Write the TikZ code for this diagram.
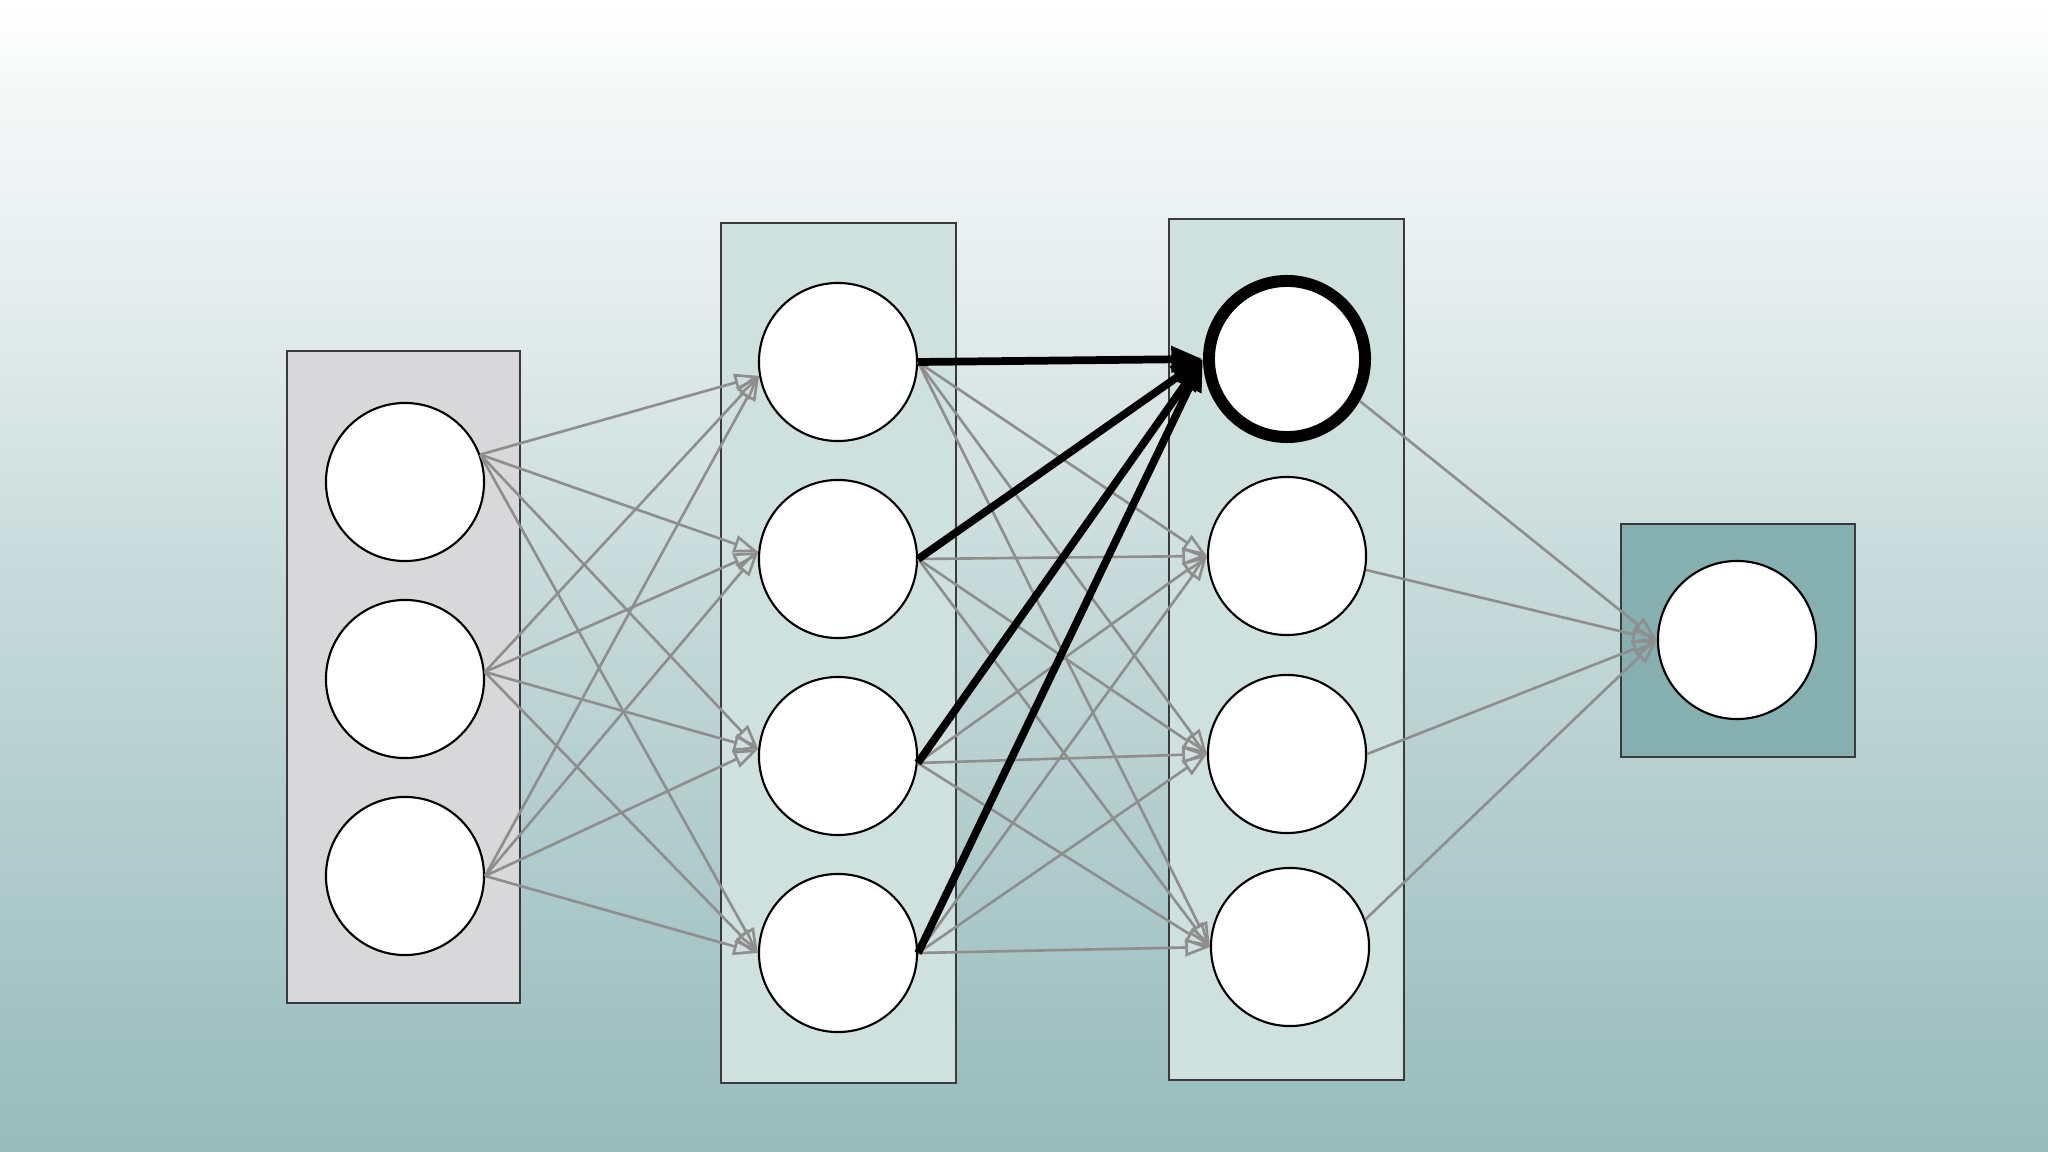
\documentclass[tikz,border=0pt]{standalone}
\usetikzlibrary{arrows.meta}
\definecolor{bgA}{HTML}{97BBBC}
\definecolor{bgB}{HTML}{C6DAD9}
\definecolor{bgC}{HTML}{E2EBEB}
\definecolor{bgD}{HTML}{F6F8F8}
\definecolor{bgE}{HTML}{FFFFFF}
\definecolor{inbox}{HTML}{D8D8DB}
\definecolor{hidbox}{HTML}{CEE1DF}
\definecolor{outbox}{HTML}{86AFAF}
\definecolor{boxline}{HTML}{3A3A3A}
\definecolor{edge}{HTML}{8E8E8E}
\pgfdeclareverticalshading{bgshade}{100bp}{color(0bp)=(bgA); color(25bp)=(bgA); color(49.5bp)=(bgB); color(61bp)=(bgC); color(71bp)=(bgD); color(75bp)=(bgE); color(100bp)=(bgE)}
\begin{document}
\begin{tikzpicture}[x=0.01cm,y=-0.01cm,
  layerbox/.style={draw=boxline,line width=0.7pt},
  neuron/.style={circle,draw=black,fill=white,line width=0.6pt,minimum size=1.58cm,inner sep=0pt},
  focus/.style={circle,draw=black,fill=white,line width=3.4pt,minimum size=1.56cm,inner sep=0pt},
  conn/.style={draw=edge,line width=0.75pt,-{Triangle[open,length=7pt,width=5pt]}},
  hot/.style={draw=black,line width=2.2pt,-{Triangle[length=9pt,width=7pt]}}]
\useasboundingbox (0,0) rectangle (2048,1152);
\shade[shading=bgshade] (0,0) rectangle (2048,1152);
% layer boxes
\draw[layerbox,fill=inbox] (287,351) rectangle (520,1003);
\draw[layerbox,fill=hidbox] (721,223) rectangle (956,1083);
\draw[layerbox,fill=hidbox] (1169,219) rectangle (1404,1080);
\draw[layerbox,fill=outbox] (1621,524) rectangle (1855,757);
% neurons
\node[neuron] (a1) at (405,482) {};
\node[neuron] (a2) at (405,679) {};
\node[neuron] (a3) at (405,876) {};
\node[neuron] (b1) at (838,362) {};
\node[neuron] (b2) at (838,559) {};
\node[neuron] (b3) at (838,756) {};
\node[neuron] (b4) at (838,953) {};
\node[focus]  (c1) at (1287,359) {};
\node[neuron] (c2) at (1287,556) {};
\node[neuron] (c3) at (1287,754) {};
\node[neuron] (c4) at (1290,947) {};
\node[neuron] (d)  at (1737,640) {};
% input -> hidden 1
\foreach \s/\sa in {a1/20,a2/5,a3/0}
  \foreach \t/\ta in {b1/190,b2/175,b3/175,b4/180}
    \draw[conn] (\s.\sa) -- (\t.\ta);
% hidden 1 -> hidden 2 (gray)
\foreach \s/\sa in {b1/0,b2/0,b3/-5,b4/0}
  \foreach \t in {c2,c3,c4}
    \draw[conn] (\s.\sa) -- (\t.west);
% hidden 1 -> focus neuron (black)
\foreach \s/\sa in {b1/0,b2/0,b3/-5,b4/0}
  \draw[hot] (\s.\sa) -- (c1.west);
% hidden 2 -> output
\foreach \s/\sa in {c1/-30,c2/-10,c3/0,c4/20}
  \draw[conn] (\s.\sa) -- (d.west);
\end{tikzpicture}
\end{document}
